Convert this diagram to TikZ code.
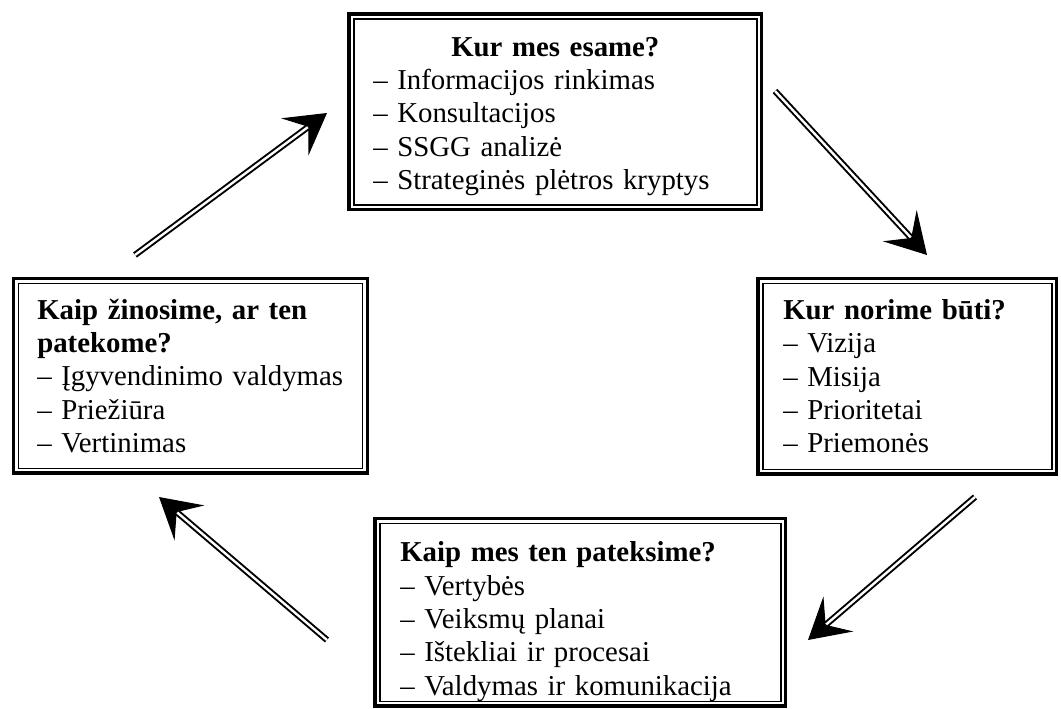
\documentclass[tikz,border=0pt]{standalone}
\usepackage{fontspec}
\setmainfont{Liberation Serif}
\usetikzlibrary{arrows.meta}

\begin{document}
\begin{tikzpicture}[
    x=0.025cm, y=-0.025cm,
    box/.style={rectangle, anchor=north west, align=left, inner ysep=0pt, font=\fontsize{20.5}{23.7}\selectfont},
    gapline/.style={white, line width=3.4pt},
    outerline/.style={line width=2.3pt},
    innerline/.style={line width=1.1pt},
    arrowhead/.style={line width=0.8pt, shorten <=4.4cm, -{Stealth[length=1.0cm, width=1.15cm, inset=0.42cm]}},
    arrowline/.style={double, double distance=1.7pt, line width=1.4pt, shorten >=0.6cm}
]

\useasboundingbox (0,0) rectangle (1061,709);

% Boxes
\node[box, text width=9.1cm, inner xsep=0.6cm, minimum width=10.3cm, minimum height=4.875cm] (where_now) at (349,14)
    {\rule{0pt}{0.71cm}\makebox[9.1cm]{\textbf{Kur mes esame?}}\\
     – Informacijos rinkimas\\
     – Konsultacijos\\
     – SSGG analizė\\
     – Strateginės plėtros kryptys};

\node[box, text width=6.2cm, inner xsep=0.625cm, minimum width=7.45cm, minimum height=4.875cm] (where_to) at (758,278.5)
    {\textbf{Kur norime būti?}\\
     – Vizija\\
     – Misija\\
     – Prioritetai\\
     – Priemonės};

\node[box, text width=9.0cm, inner xsep=0.625cm, minimum width=10.25cm, minimum height=4.675cm] (how_get) at (375,518.5)
    {\rule{0pt}{0.96cm}\textbf{Kaip mes ten pateksime?}\\
     – Vertybės\\
     – Veiksmų planai\\
     – Ištekliai ir procesai\\
     – Valdymas ir komunikacija};

\node[box, text width=7.65cm, inner xsep=0.5875cm, minimum width=8.825cm, minimum height=4.85cm] (how_know) at (13.5,278.5)
    {\textbf{Kaip žinosime, ar ten}\\
     \textbf{patekome?}\\
     – Įgyvendinimo valdymas\\
     – Priežiūra\\
     – Vertinimas};

% Double frames
\foreach \b in {where_now, where_to, how_get, how_know} {
    \draw[gapline] ([shift={(2.4,2.4)}]\b.north west) rectangle ([shift={(-2.4,-2.4)}]\b.south east);
    \draw[outerline] (\b.north west) rectangle (\b.south east);
    \draw[innerline] ([shift={(4.8,4.8)}]\b.north west) rectangle ([shift={(-4.8,-4.8)}]\b.south east);
}

% Arrow ends
\coordinate (a1_tail) at (135,255);
\coordinate (a1_tip) at (327,113);
\coordinate (a2_tail) at (775,91);
\coordinate (a2_tip) at (927,255);
\coordinate (a3_tail) at (975,497);
\coordinate (a3_tip) at (808,640);
\coordinate (a4_tail) at (327,640);
\coordinate (a4_tip) at (159,497);

% Cycle arrows
\foreach \i in {1,...,4} {
    \draw[arrowhead] (a\i_tail) -- (a\i_tip);
    \draw[arrowline] (a\i_tail) -- (a\i_tip);
}

\end{tikzpicture}
\end{document}
